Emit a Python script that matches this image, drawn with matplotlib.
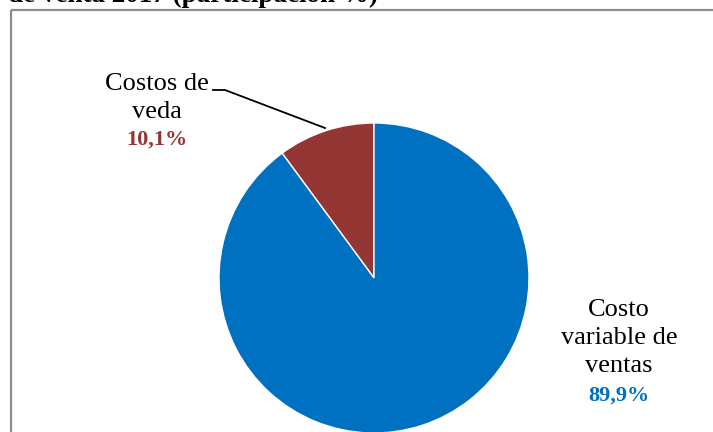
import matplotlib.pyplot as plt
from matplotlib.patches import Rectangle

plt.rcParams['font.family'] = ['Liberation Serif', 'DejaVu Serif']

etiquetas = ["Costos de\nveda", "Costo\nvariable de\nventas"]
valores = [10.1, 89.9]
porcentajes = ["10,1%", "89,9%"]
colores = ["#943634", "#0070C0"]
titulo = "de venta 2017 (participación %)"

fig = plt.figure(figsize=(7.13, 4.32), dpi=100)
ax = fig.add_axes([0, 0, 1, 1])

# marco del grafico (recortado)
ax.add_patch(Rectangle((11, 10), 720, 440, fill=False, edgecolor="#8c8c8c", lw=1.6))

ax.text(8, 1.5, titulo, fontsize=19.5, fontweight="bold", ha="left", va="baseline")

# eje y invertido: se gira en sentido horario desde abajo
ax.pie(valores, colors=colores, startangle=-90, counterclock=False,
       center=(374, 278), radius=155, frame=True,
       wedgeprops=dict(edgecolor="white", linewidth=1))
ax.set_xlim(0, 713)
ax.set_ylim(432, 0)
ax.set_aspect("auto")
ax.axis("off")

# etiqueta izquierda
ax.text(157, 98, etiquetas[0], fontsize=19, ha="center", va="center", linespacing=1.35)
ax.text(157, 140, porcentajes[0], fontsize=16, fontweight="bold", color=colores[0],
        ha="center", va="center")
ax.plot([213, 225, 325], [90, 90, 128], color="black", lw=1.3)

# etiqueta derecha
ax.text(619, 338, etiquetas[1], fontsize=19, ha="center", va="center", linespacing=1.35)
ax.text(619, 396, porcentajes[1], fontsize=16, fontweight="bold", color=colores[1],
        ha="center", va="center")

fig.savefig("out.png", dpi=100)
